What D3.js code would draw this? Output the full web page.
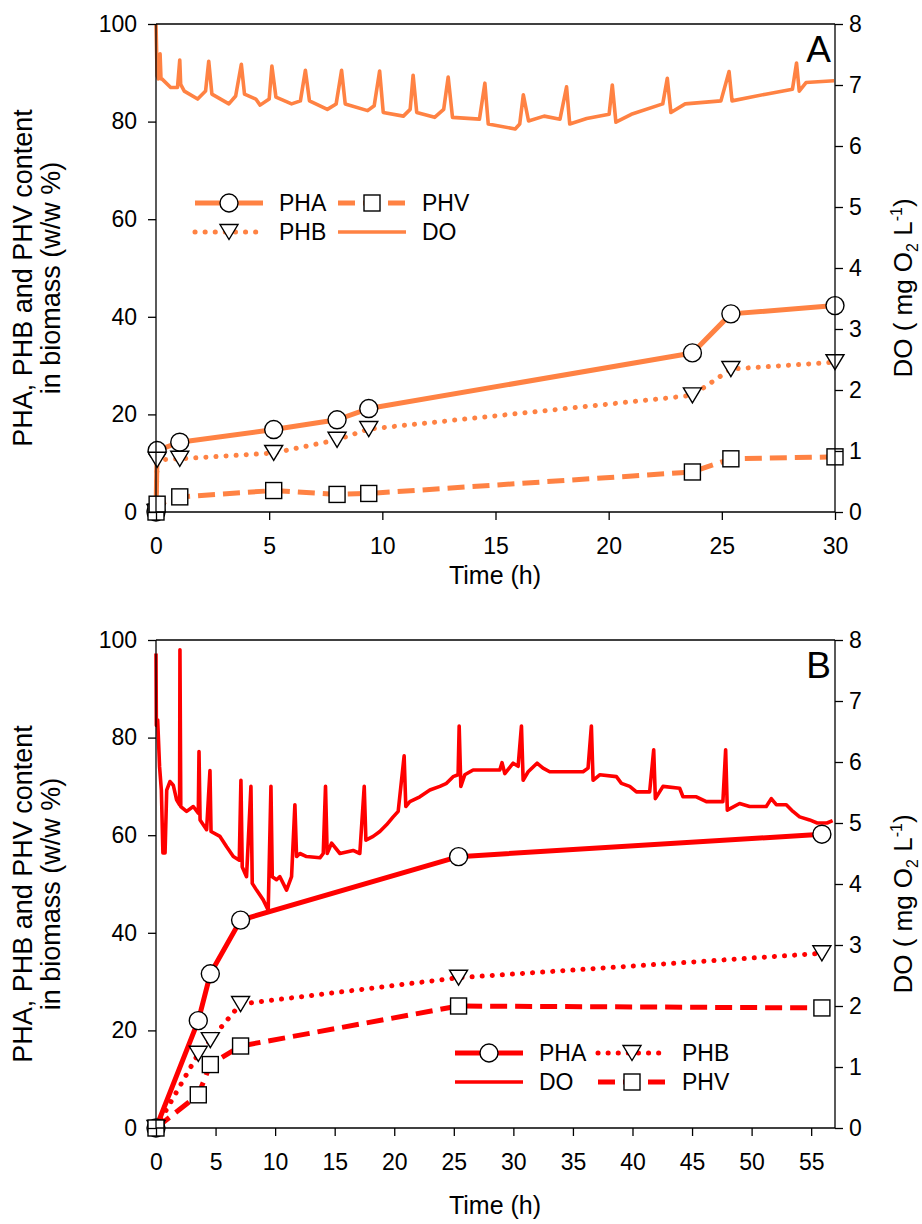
<!DOCTYPE html>
<html>
<head>
<meta charset="utf-8">
<script src="https://cdn.jsdelivr.net/npm/d3@7/dist/d3.min.js"></script>
<style>
body{margin:0;background:#fff;}
svg text{font-family:"Liberation Sans",Arial,Helvetica,sans-serif;fill:#000;}
</style>
</head>
<body>
<svg id="chart" width="922" height="1224"></svg>
<script>
// ---- panel A : time (h), content (w/w %), DO (mg O2/L)
var timeA = [0, 0.05, 1.05, 5.2, 8.0, 9.4, 23.7, 25.4, 30.0];
var phaA = [0, 12.6, 14.3, 16.9, 18.9, 21.2, 32.6, 40.6, 42.3];
var phbA = [0, 10.7, 10.9, 12.1, 14.8, 17.0, 23.9, 29.3, 30.7];
var phvA = [0, 1.6, 3.1, 4.4, 3.6, 3.8, 8.2, 10.9, 11.3];
var doA = [[0,8.0],[0.05,7.15],[0.1,7.10],[0.18,7.51],[0.22,7.10],[0.26,7.10],[0.65,6.96],[0.95,6.96],
	[1.05,7.41],[1.09,7.01],[1.25,6.90],[1.84,6.77],[2.19,6.90],[2.33,7.39],[2.47,6.85],[3.22,6.69],
	[3.52,6.82],[3.77,7.34],[3.91,6.85],[4.41,6.77],[4.6,6.67],[5.0,6.77],[5.12,7.31],[5.3,6.80],
	[5.99,6.69],[6.38,6.74],[6.6,7.24],[6.78,6.74],[7.57,6.60],[7.96,6.69],[8.2,7.24],[8.36,6.69],
	[9.35,6.58],[9.64,6.66],[9.88,7.23],[10.04,6.55],[10.93,6.49],[11.23,6.60],[11.36,7.16],[11.52,6.55],
	[12.31,6.47],[12.71,6.60],[12.91,7.13],[13.1,6.47],[14.29,6.44],[14.53,7.03],[14.68,6.36],[15.87,6.28],
	[16.07,6.36],[16.23,6.84],[16.46,6.41],[17.15,6.49],[17.85,6.44],[18.14,6.97],[18.28,6.36],[19.03,6.45],
	[20.02,6.52],[20.16,7.0],[20.32,6.39],[21.0,6.52],[22.39,6.69],[22.59,7.11],[22.75,6.55],[23.38,6.69],
	[24.96,6.74],[25.32,7.22],[25.45,6.74],[26.94,6.85],[28.12,6.93],[28.3,7.36],[28.42,6.90],[28.72,7.04],
	[29.96,7.07]];
var xTicksA = [0, 5, 10, 15, 20, 25, 30];

// ---- panel B
var timeB = [0, 3.55, 4.56, 7.1, 25.4, 55.9];
var phaB = [0, 22.0, 31.6, 42.6, 55.6, 60.2];
var phbB = [0, 15.2, 18.0, 25.4, 30.8, 35.8];
var phvB = [0, 6.8, 13.0, 16.8, 25.0, 24.6];
var doB = [[0,7.78],[0.03,6.6],[0.14,6.69],[0.3,5.92],[0.45,5.54],[0.58,4.51],[0.76,4.51],[0.9,5.54],
	[1.17,5.68],[1.45,5.62],[1.73,5.38],[1.98,5.30],[2.01,7.84],[2.08,5.27],[2.57,5.19],[3.13,5.27],
	[3.55,5.16],[3.61,6.17],[3.7,5.05],[4.25,4.89],[4.53,5.86],[4.62,4.86],[5.37,4.78],[5.93,4.61],
	[6.49,4.45],[6.99,4.39],[7.13,5.70],[7.24,4.28],[7.6,4.12],[7.97,5.60],[8.08,4.01],[8.44,3.90],
	[9.0,3.74],[9.42,3.57],[9.65,5.60],[9.76,4.12],[10.12,4.07],[10.4,4.12],[10.96,3.90],[11.38,4.12],
	[11.66,5.30],[11.8,4.45],[12.08,4.50],[12.64,4.45],[13.76,4.43],[14.04,4.50],[14.23,5.60],[14.37,4.50],
	[14.74,4.67],[15.44,4.50],[16.55,4.55],[17.11,4.50],[17.48,5.60],[17.62,4.72],[18.23,4.78],[18.79,4.86],
	[19.35,4.97],[19.91,5.10],[20.33,5.19],[20.83,6.10],[20.97,5.27],[21.31,5.35],[22.15,5.43],[22.99,5.54],
	[23.83,5.60],[24.39,5.65],[24.94,5.76],[25.36,5.79],[25.45,6.59],[25.59,5.60],[25.92,5.79],[26.62,5.87],
	[28.86,5.87],[29.05,5.99],[29.28,5.81],[29.98,5.98],[30.4,5.93],[30.68,6.59],[30.82,5.70],[31.24,5.84],
	[31.99,5.98],[32.49,5.90],[33.05,5.84],[35.85,5.84],[36.27,5.90],[36.55,6.59],[36.69,5.70],[37.25,5.79],
	[38.65,5.76],[39.07,5.65],[39.77,5.60],[40.33,5.51],[41.44,5.51],[41.78,6.20],[41.92,5.40],[42.56,5.60],
	[43.96,5.57],[44.24,5.43],[45.36,5.43],[46.2,5.35],[47.59,5.35],[47.82,6.20],[47.96,5.21],[48.99,5.32],
	[49.83,5.27],[51.23,5.27],[51.65,5.40],[52.07,5.30],[52.91,5.30],[53.47,5.19],[54.03,5.10],[54.87,5.05],
	[55.5,5.0],[56.33,5.0],[56.8,5.04]];
var xTicksB = [0, 5, 10, 15, 20, 25, 30, 35, 40, 45, 50, 55];

var yTicks = [0, 20, 40, 60, 80, 100];
var y2Ticks = [0, 1, 2, 3, 4, 5, 6, 7, 8];

var svg = d3.select('#chart');
var FONT_TICK = 23, FONT_TITLE = 25;

// line styles
var styles = {
	PHA: {width: 5, dash: null, cap: 'butt', marker: 'circle'},
	PHB: {width: 5, dash: '0.1 10', cap: 'round', marker: 'triangle'},
	PHV: {width: 5, dash: '17 8', cap: 'butt', marker: 'square'},
	DO: {width: 3.6, dash: null, cap: 'butt', marker: null}
};

function drawMarker(g, type, cx, cy){
	if(type=='circle'){
		g.append('circle').attr('cx', cx).attr('cy', cy).attr('r', 9);
	}else if(type=='square'){
		g.append('rect').attr('x', cx-8).attr('y', cy-8).attr('width', 16).attr('height', 16);
	}else if(type=='triangle'){
		g.append('path').attr('d', 'M'+(cx-9)+','+(cy-7.5)+'L'+(cx+9)+','+(cy-7.5)+'L'+cx+','+(cy+7.5)+'Z');
	}
}

function styleLine(sel, st, color){
	sel.attr('fill', 'none').attr('stroke', color)
		.attr('stroke-width', st.width)
		.attr('stroke-linecap', st.cap)
		.attr('stroke-linejoin', 'round');
	if(st.dash) sel.attr('stroke-dasharray', st.dash);
}

function drawPanel(p){
	var x = d3.scaleLinear().domain(p.xDomain).range([156, 835]);
	var y = d3.scaleLinear().domain([0, 100]).range([p.bottom, p.top]);
	var y2 = d3.scaleLinear().domain([0, 8]).range([p.bottom, p.top]);
	var g = svg.append('g');

	// DO trace
	var doLine = d3.line().x(function(d){return x(d[0]);}).y(function(d){return y2(d[1]);});
	styleLine(g.append('path').attr('d', doLine(p.DO)), styles.DO, p.color);

	// content series
	var line = d3.line().x(function(d){return x(d[0]);}).y(function(d){return y(d[1]);});
	p.series.forEach(function(s){
		var pts = p.time.map(function(t, i){return [t, s.values[i]];});
		styleLine(g.append('path').attr('d', line(pts)), styles[s.key], p.color);
	});
	p.series.forEach(function(s){
		var mg = g.append('g').attr('fill', '#fff').attr('stroke', '#000').attr('stroke-width', 1.4);
		p.time.forEach(function(t, i){
			drawMarker(mg, styles[s.key].marker, x(t), y(s.values[i]));
		});
	});

	// frame + axes
	g.append('line').attr('x1', 156).attr('x2', 835).attr('y1', p.top).attr('y2', p.top)
		.attr('stroke', '#000').attr('stroke-width', 1.3);
	var ax = [
		g.append('g').attr('transform', 'translate(156,0)')
			.call(d3.axisLeft(y).tickValues(yTicks).tickSize(8).tickPadding(11)),
		g.append('g').attr('transform', 'translate(835,0)')
			.call(d3.axisRight(y2).tickValues(y2Ticks).tickSize(8).tickPadding(6)),
		g.append('g').attr('transform', 'translate(0,'+p.bottom+')')
			.call(d3.axisBottom(x).tickValues(p.xTicks).tickSize(8).tickPadding(18))
	];
	ax.forEach(function(a){
		a.select('.domain').attr('stroke', '#000').attr('stroke-width', 1.3);
		a.selectAll('.tick line').attr('stroke', '#000').attr('stroke-width', 1.3);
		a.selectAll('.tick text').style('font-size', FONT_TICK+'px')
			.style('font-family', '"Liberation Sans",Arial,sans-serif').attr('fill', '#000');
	});
	ax[0].select('.domain').attr('d', 'M0,'+p.top+'V'+p.bottom);
	ax[1].select('.domain').attr('d', 'M0,'+p.top+'V'+p.bottom);
	ax[2].select('.domain').attr('d', 'M156,0H835');

	// titles
	var cy = (p.top+p.bottom)/2;
	var lt = g.append('text').attr('transform', 'translate(32,'+(cy+10)+') rotate(-90)')
		.attr('text-anchor', 'middle').style('font-size', '27px');
	lt.append('tspan').attr('x', 0).attr('y', 0).text('PHA, PHB and PHV content');
	lt.append('tspan').attr('x', 0).attr('y', 28).text('in biomass (w/w %)');

	var rt = g.append('text').attr('transform', 'translate(912,'+(cy+20)+') rotate(-90)')
		.attr('text-anchor', 'middle').style('font-size', '26px');
	rt.append('tspan').text('DO ( mg O');
	rt.append('tspan').attr('dy', 6).style('font-size', '16px').text('2');
	rt.append('tspan').attr('dy', -6).text(' L');
	rt.append('tspan').attr('dy', -10).style('font-size', '16px').text('-1');
	rt.append('tspan').attr('dy', 10).text(')');

	g.append('text').attr('x', 495).attr('y', p.xTitleY).attr('text-anchor', 'middle')
		.style('font-size', FONT_TITLE+'px').text('Time (h)');
	g.append('text').attr('x', 831).attr('y', p.top+38).attr('text-anchor', 'end')
		.style('font-size', '37px').text(p.letter);

	// legend
	p.legend.forEach(function(it){
		var st = styles[it.key];
		styleLine(g.append('line').attr('x1', it.x).attr('x2', it.x+68).attr('y1', it.y).attr('y2', it.y),
			st, p.color);
		if(st.marker){
			var mg = g.append('g').attr('fill', '#fff').attr('stroke', '#000').attr('stroke-width', 1.4);
			drawMarker(mg, st.marker, it.x+34, it.y);
		}
		g.append('text').attr('x', it.x+84).attr('y', it.y+8).style('font-size', '23px').text(it.key);
	});
}

drawPanel({
	letter: 'A', color: '#ff8243', top: 24, bottom: 512, xDomain: [0, 30], xTicks: xTicksA, xTitleY: 584,
	time: timeA, DO: doA,
	series: [{key: 'PHA', values: phaA}, {key: 'PHB', values: phbA}, {key: 'PHV', values: phvA}],
	legend: [{key: 'PHA', x: 195, y: 203}, {key: 'PHV', x: 338, y: 203},
		{key: 'PHB', x: 195, y: 232}, {key: 'DO', x: 338, y: 232}]
});
drawPanel({
	letter: 'B', color: '#ff0000', top: 640, bottom: 1128, xDomain: [0, 57], xTicks: xTicksB, xTitleY: 1214,
	time: timeB, DO: doB,
	series: [{key: 'PHA', values: phaB}, {key: 'PHB', values: phbB}, {key: 'PHV', values: phvB}],
	legend: [{key: 'PHA', x: 455, y: 1053}, {key: 'PHB', x: 598, y: 1053},
		{key: 'DO', x: 455, y: 1082}, {key: 'PHV', x: 598, y: 1082}]
});
</script>
</body>
</html>
